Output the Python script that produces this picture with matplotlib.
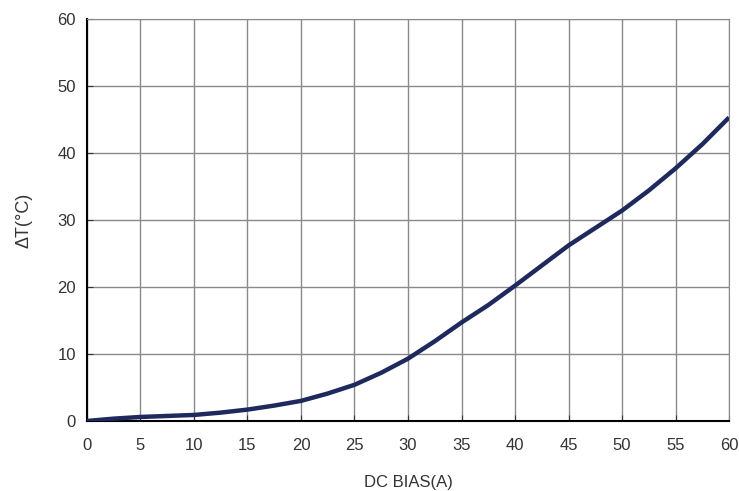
import matplotlib
matplotlib.use('Agg')
import matplotlib.pyplot as plt
from matplotlib.ticker import MultipleLocator

# DC bias current (A) vs temperature rise (degC)
bias = [0, 2.5, 5, 7.5, 10, 12.5, 15, 17.5, 20, 22.5, 25, 27.5, 30, 32.5, 35, 37.5,
        40, 42.5, 45, 47.5, 50, 52.5, 55, 57.5, 60]
delta_t = [0.0, 0.35, 0.6, 0.75, 0.9, 1.25, 1.7, 2.3, 3.0, 4.1, 5.4, 7.2, 9.3, 11.9, 14.7, 17.3,
           20.2, 23.2, 26.2, 28.8, 31.4, 34.4, 37.7, 41.3, 45.3]

plt.rcParams['font.family'] = ['Liberation Sans', 'DejaVu Sans']

fig = plt.figure(figsize=(7.39, 4.91), dpi=100)
ax = fig.add_axes([0.1177, 0.1426, 0.8688, 0.8187])

ax.plot(bias, delta_t, color='#1e2a5e', linewidth=3.2, solid_capstyle='butt', zorder=3)

ax.set_xlim(0, 60)
ax.set_ylim(0, 60)
ax.xaxis.set_major_locator(MultipleLocator(5))
ax.yaxis.set_major_locator(MultipleLocator(10))
ax.grid(True, color='#8a8a8a', linewidth=1.0)

for side in ['top', 'right']:
    ax.spines[side].set_color('#8a8a8a')
for side in ['left', 'bottom']:
    ax.spines[side].set_color('black')
    ax.spines[side].set_linewidth(1.5)

ax.tick_params(direction='in', length=4, labelsize=12, colors='#333333', pad=8)
ax.tick_params(axis='x', pad=12)

ax.set_xlabel('DC BIAS(A)', fontsize=12, color='#333333', labelpad=16)
ax.set_ylabel('ΔT(°C)', fontsize=13, color='#333333', labelpad=18)

fig.savefig('out.png', dpi=100)
